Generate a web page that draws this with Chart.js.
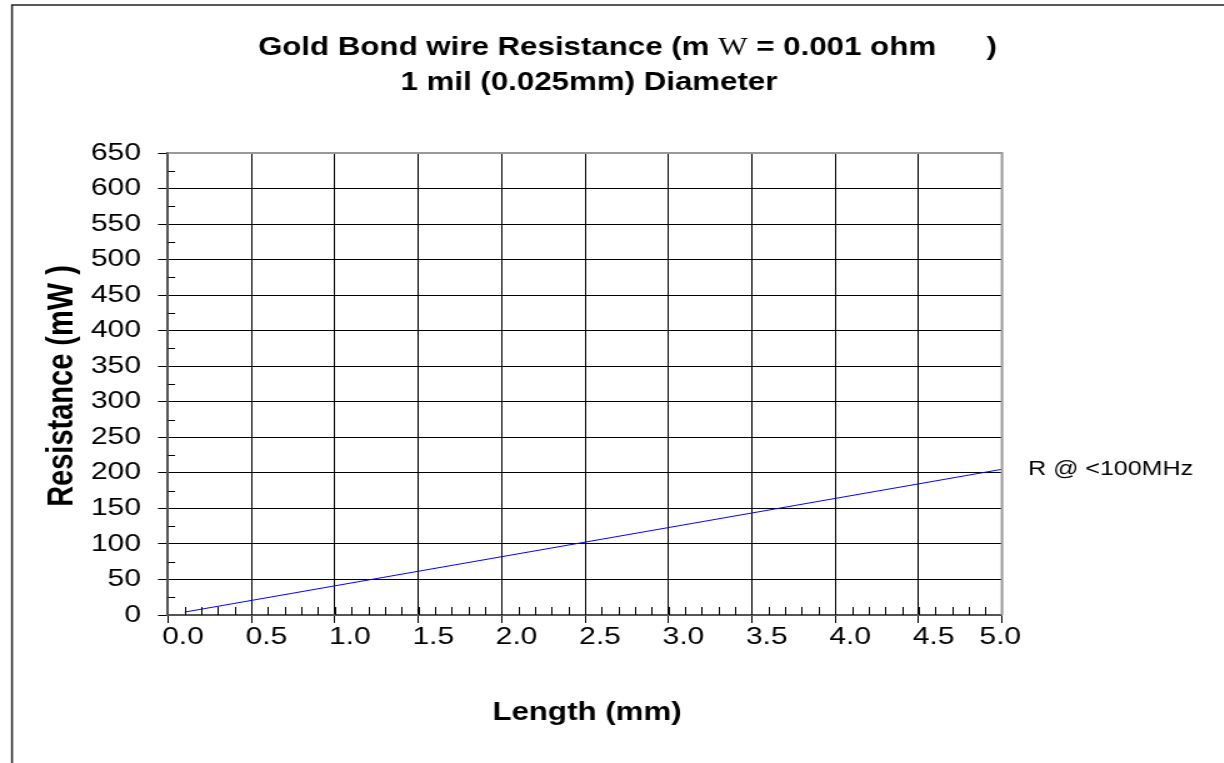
<!DOCTYPE html>
<html>
<head>
<meta charset="utf-8">
<script src="https://cdn.jsdelivr.net/npm/chart.js@4.4.1/dist/chart.umd.min.js"></script>
<style>
  html, body { margin: 0; padding: 0; background: #fff; overflow: hidden; }
  /* the original picture is stretched sideways, so the chart is drawn narrower and widened */
  #wrap { position: absolute; left: 0; top: 0; width: 979px; height: 763px;
          transform: scaleX(1.25); transform-origin: 0 0; }
</style>
</head>
<body>
<div id="wrap"><canvas id="chart"></canvas></div>
<script>
const SX = 1.25;

// --- DATA ---
const lengthMm = [0.1, 0.5, 1.0, 1.5, 2.0, 2.5, 3.0, 3.5, 4.0, 4.5, 5.0];
const resistanceMohm = [4.1, 20.5, 41.0, 61.5, 82.0, 102.5, 123.0, 143.5, 164.0, 184.5, 205.0];
const seriesName = "R @ <100MHz";

const xTickValues = [0.0, 0.5, 1.0, 1.5, 2.0, 2.5, 3.0, 3.5, 4.0, 4.5, 5.0];
const yTickValues = [0, 50, 100, 150, 200, 250, 300, 350, 400, 450, 500, 550, 600, 650];
const xMinorStep = 0.1;
const yMinorStep = 25;

const FONT = "'Liberation Sans', Arial, sans-serif";

// picture x (px) -> canvas x before the sideways stretch
function ix(px) { return px / SX; }

// --- DRAWING HELPERS ---

const decorPlugin = {
    id: 'decor',
    beforeDraw(chart) {
        const c = chart.ctx;
        // outer frame (only top and left edges are in view)
        c.save();
        c.strokeStyle = '#222';
        c.lineWidth = 1.5;
        c.beginPath();
        c.moveTo(ix(12), chart.height + 5);
        c.lineTo(ix(12), 5);
        c.lineTo(chart.width + 5, 5);
        c.stroke();
        c.restore();
    },
    afterDraw(chart) {
        const c = chart.ctx;
        const a = chart.chartArea;
        const xs = chart.scales.x;
        const ys = chart.scales.y;

        c.save();
        // top and right edges of the plot
        c.strokeStyle = '#999';
        c.lineWidth = 2;
        c.beginPath();
        c.moveTo(a.left, a.top);
        c.lineTo(a.right, a.top);
        c.lineTo(a.right, a.bottom);
        c.stroke();

        // minor ticks pointing inwards
        c.strokeStyle = '#000';
        c.lineWidth = 1;
        c.beginPath();
        for (let v = xMinorStep; v < xs.max - 1e-9; v += xMinorStep) {
            const px = Math.round(xs.getPixelForValue(v)) + 0.5;
            c.moveTo(px, a.bottom);
            c.lineTo(px, a.bottom - 8);
        }
        for (let v = yMinorStep; v < ys.max; v += 2 * yMinorStep) {
            const py = Math.round(ys.getPixelForValue(v)) + 0.5;
            c.moveTo(a.left, py);
            c.lineTo(a.left + ix(7), py);
        }
        c.stroke();

        // titles
        c.fillStyle = '#000';
        c.textBaseline = 'middle';
        c.textAlign = 'left';
        const bold = "bold 25px " + FONT;
        let x = ix(258);
        c.font = bold;
        const p1 = "Gold Bond wire Resistance (m ";
        c.fillText(p1, x, 48);
        x += c.measureText(p1).width;
        c.font = "25px 'Liberation Serif', 'Times New Roman', serif";
        c.fillText("W", x, 48);
        x += c.measureText("W").width;
        c.font = bold;
        c.fillText(" = 0.001 ohm", x, 48);
        c.textAlign = 'right';
        c.fillText(")", ix(997), 48);

        c.textAlign = 'center';
        c.fillText("1 mil (0.025mm) Diameter", ix(589), 83);

        // axis titles
        c.font = "bold 25px " + FONT;
        c.fillText("Length (mm)", ix(587), 713);
        c.save();
        c.translate(ix(63), 386);
        c.rotate(-Math.PI / 2);
        c.font = "bold 29px " + FONT;
        c.fillText("Resistance (mW )", 0, 0);
        c.restore();

        // series name next to the end of the line
        const meta = chart.getDatasetMeta(0);
        const last = meta.data[meta.data.length - 1];
        c.font = "20px " + FONT;
        c.textAlign = 'left';
        c.fillText(seriesName, last.x + ix(26), last.y);
        c.restore();
    }
};

// --- CHART ---

new Chart(document.getElementById('chart'), {
    type: 'line',
    data: {
        datasets: [{
            label: seriesName,
            data: lengthMm.map((l, i) => ({ x: l, y: resistanceMohm[i] })),
            borderColor: '#0000ff',
            borderWidth: 1,
            pointRadius: 0,
            tension: 0,
            fill: false
        }]
    },
    options: {
        responsive: true,
        maintainAspectRatio: false,
        animation: false,
        layout: { padding: { left: 0, top: 153, right: 979 - ix(1002), bottom: 0 } },
        plugins: {
            legend: { display: false },
            title: { display: false },
            tooltip: { enabled: false }
        },
        scales: {
            x: {
                type: 'linear',
                min: 0,
                max: 5,
                afterBuildTicks: s => { s.ticks = xTickValues.map(v => ({ value: v })); },
                afterFit: s => { s.height = 763 - 615; },
                ticks: {
                    // labels sit a little right of their ticks, except the last one which is pulled back
                    callback: (v, i, t) => Number(v).toFixed(1) + (i === t.length - 1 ? "    " : ""),
                    color: '#000',
                    font: { family: FONT, size: 24 },
                    padding: 0,
                    labelOffset: ix(15),
                    maxRotation: 0,
                    autoSkip: false
                },
                grid: { color: '#000', lineWidth: 1, tickLength: 8, tickColor: '#000' },
                border: { display: true, color: '#555', width: 2 }
            },
            y: {
                min: 0,
                max: 650,
                afterBuildTicks: s => { s.ticks = yTickValues.map(v => ({ value: v })); },
                afterFit: s => { s.width = ix(168); },
                ticks: {
                    color: '#000',
                    font: { family: FONT, size: 24 },
                    padding: ix(17),
                    autoSkip: false
                },
                grid: { color: '#000', lineWidth: 1, tickLength: ix(10), tickColor: '#000' },
                border: { display: true, color: '#555', width: 2 }
            }
        }
    },
    plugins: [decorPlugin]
});
</script>
</body>
</html>
